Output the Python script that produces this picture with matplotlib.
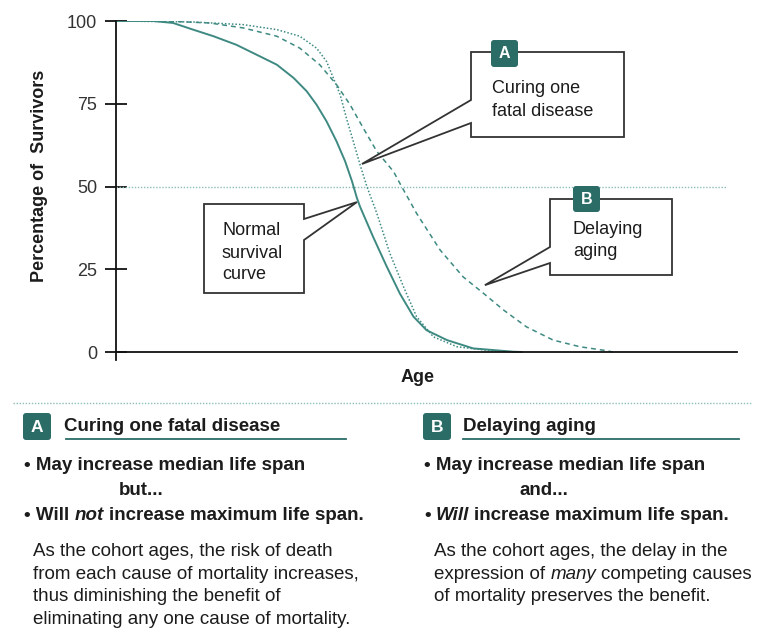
import matplotlib
matplotlib.use('Agg')
import matplotlib.pyplot as plt
from matplotlib.patches import Polygon, FancyBboxPatch

plt.rcParams['font.family'] = ['Liberation Sans', 'DejaVu Sans']

# ---------------- data ----------------
age_normal = [0, 6, 9.2, 12.4, 15.7, 19.4, 23.2, 25.9, 28.6, 30.7, 32.3, 33.9, 35.5,
              36.9, 38.0, 38.8, 39.3, 41.4, 43.6, 45.7, 47.9, 50.0, 53.3, 57.5, 63.9, 65.5]
surv_normal = [100, 100, 99.4, 97.4, 95.4, 92.8, 89.3, 86.8, 82.8, 78.8, 74.7, 69.7, 63.7,
               57.6, 51.6, 46.5, 43.9, 34.8, 25.8, 17.7, 10.7, 6.6, 3.6, 1.1, 0.1, 0]

age_cure = [0, 12.4, 20.5, 25.9, 29.6, 32.3, 33.9, 35.0, 36.1, 37.1, 38.2, 39.3,
            40.4, 42.0, 44.1, 46.3, 48.4, 51.1, 54.9, 60.2, 64.5]
surv_cure = [100, 99.7, 98.9, 97.4, 95.4, 91.8, 87.8, 82.8, 77.7, 70.7, 63.7, 56.6,
             50, 41.9, 29.8, 19.7, 10.7, 4.6, 1.6, 0.4, 0]

age_delay = [0, 9, 15.1, 20.5, 25.9, 29.6, 32.8, 35.5, 37.7, 39.8, 42.0, 44.7, 45.7,
             48.4, 52.2, 55.9, 59.2, 62.4, 66.1, 70.4, 74.7, 79.0, 80]
surv_delay = [100, 99.9, 99.4, 97.9, 95.4, 91.8, 86.8, 80.8, 74.7, 67.7, 60.6, 54.5, 51,
              41.9, 30.8, 22.7, 17.7, 12.7, 7.6, 3.6, 1.6, 0.4, 0]

y_ticks = [0, 25, 50, 75, 100]
median_level = 50

# ---------------- styling ----------------
W, H = 770, 642
TEAL = '#3e8a82'
TEAL_DARK = '#2c6c67'
TEAL_LIGHT = '#8dbdb8'
TXT = '#1c1c1c'
BOX_EC = '#333333'

fig = plt.figure(figsize=(W / 100, H / 100), dpi=100)
ax = fig.add_axes([116 / W, 1 - 360.3 / H, 621 / W, (360.3 - 21) / H])
ax.set_xlim(0, 100)
ax.set_ylim(-2.5, 100)
ax.patch.set_visible(False)

for s in ['top', 'right']:
    ax.spines[s].set_visible(False)
ax.spines['bottom'].set_position(('data', 0))
ax.spines['left'].set_linewidth(1.3)
ax.spines['bottom'].set_linewidth(1.3)
ax.spines['left'].set_color('#111111')
ax.spines['bottom'].set_color('#111111')
ax.set_xticks([])
ax.set_yticks(y_ticks)
ax.set_yticklabels([str(v) for v in y_ticks])
ax.tick_params(axis='y', direction='inout', length=16.5, width=1.3, pad=5.4,
               labelsize=13, colors='#111111', labelcolor='#333333')

ax.axhline(median_level, xmin=0, xmax=0.982, color=TEAL_LIGHT, lw=1.0, dashes=(1, 1.2))
ax.plot(age_normal, surv_normal, color=TEAL, lw=1.4, solid_capstyle='butt',
        solid_joinstyle='round')
ax.plot(age_cure, surv_cure, color=TEAL, lw=1.1, dashes=(1, 1.3))
ax.plot(age_delay, surv_delay, color=TEAL, lw=1.1, dashes=(3.2, 2.6))

# ---------------- overlay in pixel coordinates ----------------
ov = fig.add_axes([0, 0, 1, 1])
ov.set_xlim(0, W)
ov.set_ylim(H, 0)
ov.patch.set_visible(False)
ov.axis('off')


def to_ov(x, y):
    d = ax.transData.transform((x, y))
    return tuple(ov.transData.inverted().transform(d))


ov.text(39.5, 175.5, 'Percentage of  Survivors', rotation=90, ha='center', va='center',
        fontsize=13, fontweight='bold', color=TXT)
ov.text(418, 382, 'Age', ha='center', va='baseline', fontsize=13, fontweight='bold', color=TXT)


def callout(left, top, right, bottom, side, y1, y2, tip):
    if side == 'left':
        verts = [(left, top), (right, top), (right, bottom), (left, bottom),
                 (left, y2), tip, (left, y1)]
    else:
        verts = [(left, top), (right, top), (right, y1), tip, (right, y2),
                 (right, bottom), (left, bottom)]
    ov.add_patch(Polygon(verts, closed=True, fc='white', ec=BOX_EC, lw=1.3,
                         joinstyle='miter', zorder=3))


def badge(x0, y0, w, h, letter, fs=11.5):
    ov.add_patch(FancyBboxPatch((x0, y0), w, h, boxstyle='round,pad=0,rounding_size=3',
                                fc=TEAL_DARK, ec='none', zorder=4))
    ov.text(x0 + w / 2, y0 + h / 2 + 0.5, letter, ha='center', va='center', color='white',
            fontsize=fs, fontweight='bold', zorder=5)


# callout tips (annotation anchors on curves)
tip_A = to_ov(39.6, 56.8)
tip_N = to_ov(38.8, 45.3)
tip_B = to_ov(59.4, 20.2)

callout(471, 52, 624, 137, 'left', 100, 123, tip_A)
badge(491, 40, 27, 27, 'A')
for txt, yb in [('Curing one', 93), ('fatal disease', 115.5)]:
    ov.text(491.5, yb, txt, fontsize=13, color=TXT, va='baseline', zorder=5)

callout(204, 204, 304, 293, 'right', 219, 240, tip_N)
for txt, yb in [('Normal', 235), ('survival', 257.5), ('curve', 279)]:
    ov.text(222, yb, txt, fontsize=13, color=TXT, va='baseline', zorder=5)

callout(550, 199, 672, 275, 'left', 247, 263, tip_B)
badge(573, 186, 27, 26, 'B')
for txt, yb in [('Delaying', 233.5), ('aging', 256)]:
    ov.text(573, yb, txt, fontsize=13, color=TXT, va='baseline', zorder=5)

# ---------------- lower explanatory panel ----------------
ov.plot([13, 752], [403, 403], color=TEAL_LIGHT, lw=1.0, dashes=(1, 1.2))

renderer = fig.canvas.get_renderer()
FS = 13.5
SPACE = 0.278 * FS * 100 / 72


def seq_text(x, y, segments, fs=FS):
    for s, style, weight in segments:
        t = ov.text(x, y, s, fontsize=fs, fontstyle=style, fontweight=weight,
                    va='baseline', ha='left', color=TXT)
        bb = t.get_window_extent(renderer)
        x += bb.width + SPACE


# column A
badge(23, 413, 28, 27, 'A', fs=12.5)
ov.text(64, 431, 'Curing one fatal disease', fontsize=FS, fontweight='bold', color=TXT, va='baseline')
ov.plot([66, 346], [438.5, 438.5], color=TEAL_DARK, lw=1.3)
ov.text(24, 470, '• May increase median life span', fontsize=FS, fontweight='bold', color=TXT, va='baseline')
ov.text(119, 495, 'but...', fontsize=FS, fontweight='bold', color=TXT, va='baseline')
seq_text(24, 520, [('• Will', 'normal', 'bold'), ('not', 'italic', 'bold'),
                   ('increase maximum life span.', 'normal', 'bold')])
for txt, yb in [('As the cohort ages, the risk of death', 556),
                ('from each cause of mortality increases,', 579),
                ('thus diminishing the benefit of', 601),
                ('eliminating any one cause of mortality.', 623.5)]:
    ov.text(33, yb, txt, fontsize=FS, color=TXT, va='baseline')

# column B
badge(423, 413, 28, 27, 'B', fs=12.5)
ov.text(463, 431, 'Delaying aging', fontsize=FS, fontweight='bold', color=TXT, va='baseline')
ov.plot([463, 739], [438.5, 438.5], color=TEAL_DARK, lw=1.3)
ov.text(424, 470, '• May increase median life span', fontsize=FS, fontweight='bold', color=TXT, va='baseline')
ov.text(520, 495, 'and...', fontsize=FS, fontweight='bold', color=TXT, va='baseline')
seq_text(424, 520, [('•', 'normal', 'bold'), ('Will', 'italic', 'bold'),
                    ('increase maximum life span.', 'normal', 'bold')])
ov.text(434, 556, 'As the cohort ages, the delay in the', fontsize=FS, color=TXT, va='baseline')
seq_text(434, 579, [('expression of', 'normal', 'normal'), ('many', 'italic', 'normal'),
                    ('competing causes', 'normal', 'normal')])
ov.text(434, 601, 'of mortality preserves the benefit.', fontsize=FS, color=TXT, va='baseline')

fig.savefig('out.png', dpi=100)
